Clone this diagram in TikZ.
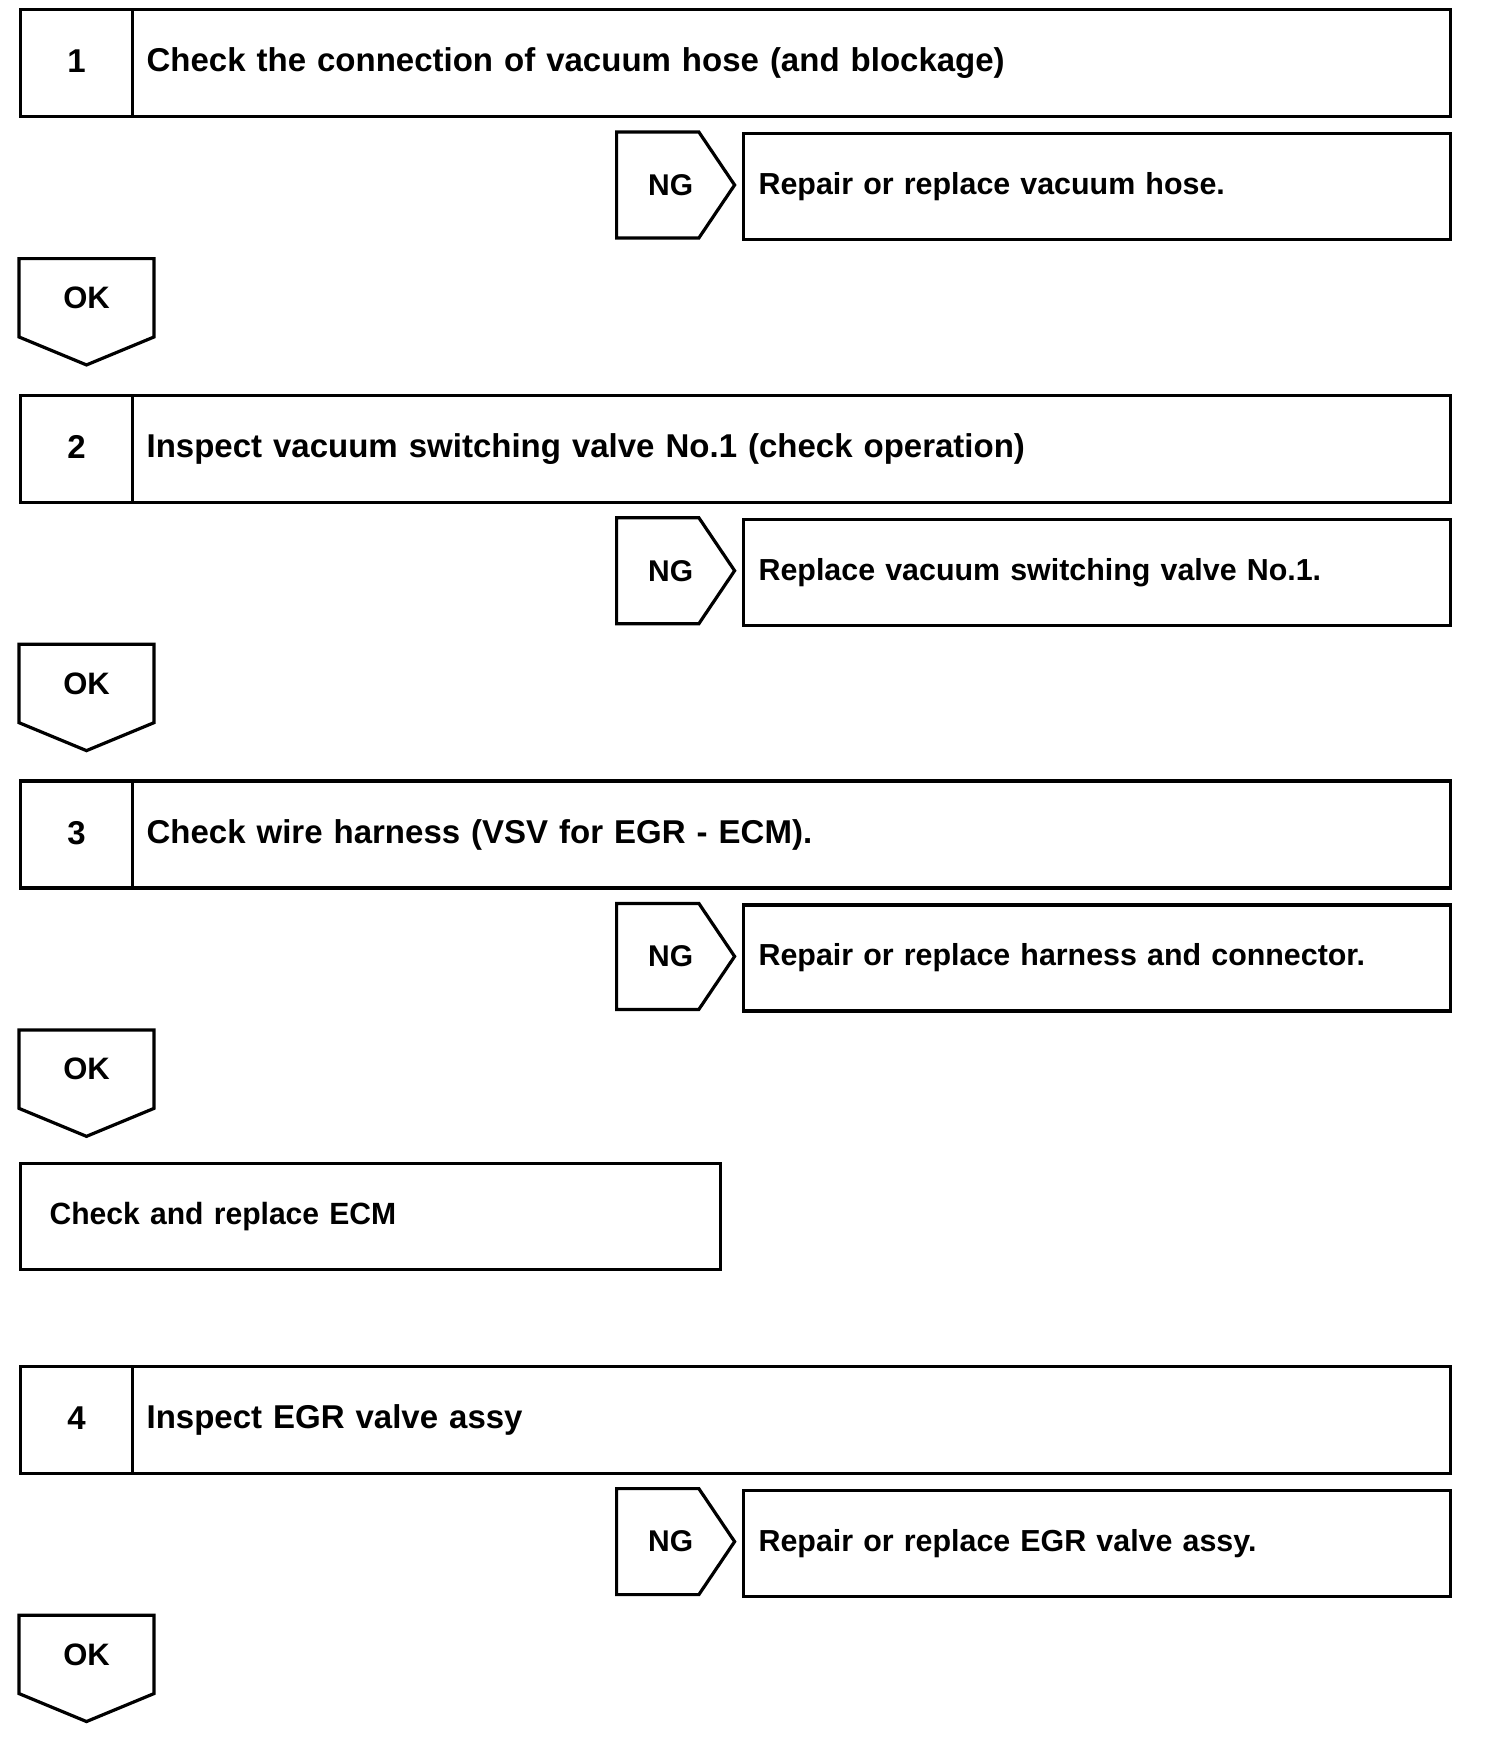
\documentclass[tikz,border=0pt]{standalone}
\usepackage{fontspec}
\setmainfont{Liberation Sans}
\usetikzlibrary{shapes.symbols}

\tikzset{
  every picture/.style = {
    x=1pt, y=-1pt,
    font=\bfseries\fontsize{33}{40}\selectfont
  },
  box/.style={
    draw,
    line width=3.2pt,
    shape=rectangle,
    anchor=north west
  },
  numcell/.style={box, inner sep=0pt, minimum width=112pt, minimum height=107pt, text depth=3pt},
  stepcell/.style={box, inner xsep=14pt, text width=1290pt, minimum height=107pt, align=left},
  fixbox/.style={box, inner xsep=15pt, text width=677pt, minimum height=106pt, align=left,
    font=\bfseries\fontsize{30.4}{36}\selectfont},
  ecmbox/.style={box, inner xsep=29pt, text width=642pt, minimum height=106pt, align=left,
    font=\bfseries\fontsize{30.7}{37}\selectfont\addfontfeature{FakeStretch=0.98}},
  ngsign/.style={
    draw,
    line width=3.2pt,
    shape=signal,
    signal to=east,
    signal pointer angle=112,
    inner sep=0pt,
    minimum width=118pt,
    minimum height=106pt,
    anchor=west,
    font=\bfseries\fontsize{30}{36}\selectfont
  },
  okflag/.style={
    draw,
    line width=3.2pt,
    shape=signal,
    signal to=south,
    signal pointer angle=135,
    inner sep=0pt,
    minimum width=135pt,
    minimum height=88pt,
    anchor=north,
    font=\bfseries\fontsize{31}{36}\selectfont
  }
}

\begin{document}
\begin{tikzpicture}
  \useasboundingbox (0,0) rectangle (1504,1748);
  % steps 1-4
  \foreach \n/\y/\what/\fix in {
      1/8/{Check the connection of vacuum hose (and blockage)}/{Repair or replace vacuum hose.},
      2/393.7/{Inspect vacuum switching valve No.1 (check operation)}/{Replace vacuum switching valve No.1.},
      3/779.4/{Check wire harness (VSV for EGR - ECM).}/{Repair or replace harness and connector.},
      4/1364.6/{Inspect EGR valve assy}/{Repair or replace EGR valve assy.}}{
    \node[numcell] (num\n) at (19,\y) {\n};
    \node[stepcell] (step\n) at (131,\y) {\what};
    \node[ngsign] (ng\n) at (615,\y+177) {\kern26pt NG};
    \node[fixbox] (fix\n) at (742,\y+124) {\fix};
    \node[okflag] (ok\n) at (86.5,\y+249) {OK};
  }
  % end of step 3
  \node[ecmbox] (ecm) at (19,1162) {Check and replace ECM};
\end{tikzpicture}
\end{document}
